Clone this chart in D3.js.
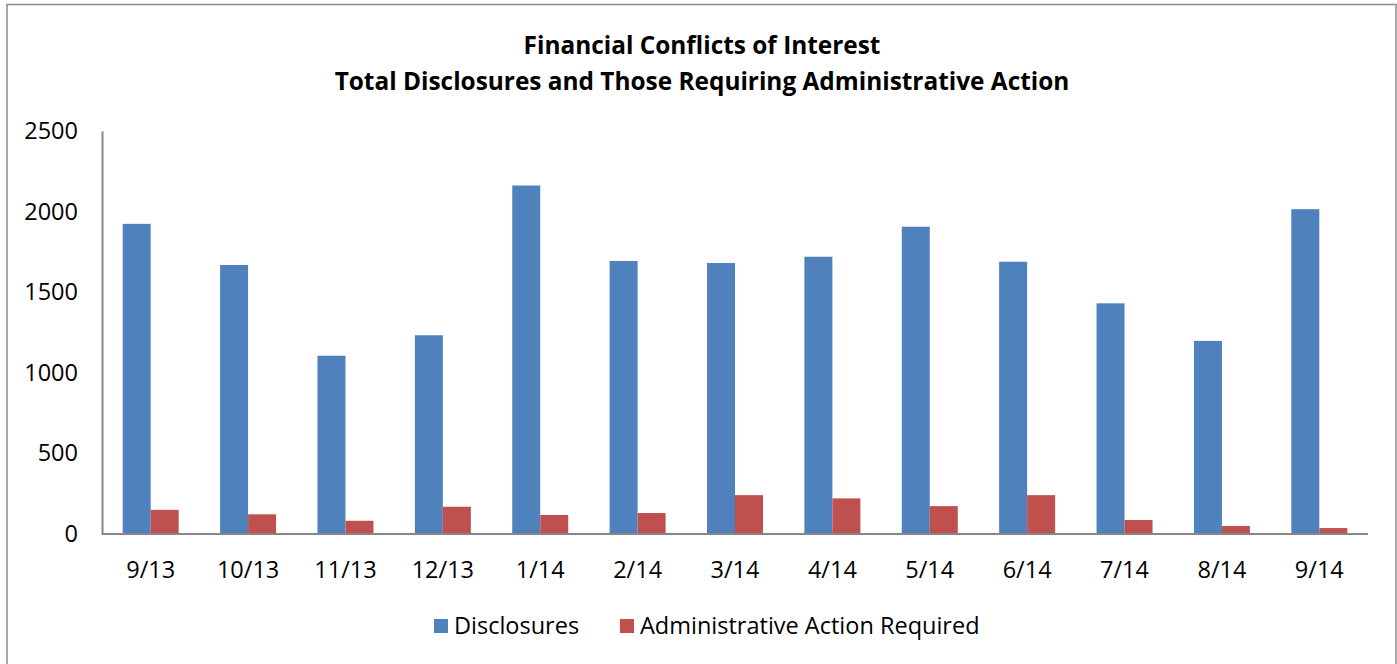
<!DOCTYPE html>
<html>
<head>
<meta charset="utf-8">
<script src="https://cdn.jsdelivr.net/npm/d3@7"></script>
<style>
  body { margin: 0; background: #fff; }
  svg { display: block; font-family: "Open Sans", "Liberation Sans", sans-serif; }
</style>
</head>
<body>
<script>
// data
var months = ["9/13", "10/13", "11/13", "12/13", "1/14", "2/14", "3/14", "4/14", "5/14", "6/14", "7/14", "8/14", "9/14"];
var disclosures = [1924, 1669, 1106, 1233, 2162, 1694, 1681, 1720, 1906, 1689, 1431, 1198, 2015];
var adminAction = [150, 122, 82, 169, 118, 130, 241, 221, 173, 241, 87, 50, 37];
var seriesNames = ["Disclosures", "Administrative Action Required"];
var seriesColors = ["#4f81bd", "#c0504d"];
var yTicks = [0, 500, 1000, 1500, 2000, 2500];

var W = 1397, H = 664;
var labelSize = 23.5;

var svg = d3.select("body").append("svg")
  .attr("width", W)
  .attr("height", H);

// outer frame
svg.append("rect")
  .attr("x", 7).attr("y", 4.5)
  .attr("width", 1389).attr("height", 670)
  .attr("fill", "#fff")
  .attr("stroke", "#8c8c8c")
  .attr("stroke-width", 1.5);

// title
var title = svg.append("text")
  .attr("text-anchor", "middle")
  .attr("font-weight", "bold")
  .attr("font-size", 24.4)
  .attr("fill", "#000");
title.append("tspan").attr("x", 702).attr("y", 54).text("Financial Conflicts of Interest");
title.append("tspan").attr("x", 702).attr("y", 90).text("Total Disclosures and Those Requiring Administrative Action");

var x = d3.scaleBand()
  .domain(months)
  .range([102, 1368])
  .paddingInner(0.425)
  .paddingOuter(0.2125);

var xs = d3.scaleBand()
  .domain([0, 1])
  .range([0, x.bandwidth()]);

var y = d3.scaleLinear()
  .domain([0, 2500])
  .range([534, 131]);

var rows = months.map(function (m, i) {
  return { month: m, vals: [disclosures[i], adminAction[i]] };
});

// bars
var groups = svg.selectAll("g.cat")
  .data(rows)
  .enter()
  .append("g")
  .attr("class", "cat")
  .attr("transform", function (d) { return "translate(" + x(d.month) + ",0)"; });

groups.selectAll("rect")
  .data(function (d) { return d.vals.map(function (v, k) { return { k: k, v: v }; }); })
  .enter()
  .append("rect")
  .attr("x", function (d) { return xs(d.k); })
  .attr("y", function (d) { return y(d.v); })
  .attr("width", xs.bandwidth())
  .attr("height", function (d) { return y(0) - y(d.v); })
  .attr("fill", function (d) { return seriesColors[d.k]; });

// y axis
var yAxis = svg.append("g")
  .attr("transform", "translate(102,0)")
  .call(d3.axisLeft(y).tickValues(yTicks).tickFormat(d3.format("d")).tickSize(0).tickPadding(24));
yAxis.select(".domain").attr("stroke", "#868686").attr("stroke-width", 2);
yAxis.selectAll("text")
  .attr("font-family", "'Open Sans', sans-serif")
  .attr("font-size", labelSize)
  .attr("fill", "#000");

// x axis
var xAxis = svg.append("g")
  .attr("transform", "translate(0,534)")
  .call(d3.axisBottom(x).tickSize(0).tickPadding(27).tickSizeOuter(0));
xAxis.select(".domain").attr("stroke", "#868686").attr("stroke-width", 2);
// axis band domain path is offset by padding; draw it to full range
xAxis.select(".domain").attr("d", "M102,0H1368");
xAxis.selectAll("text")
  .attr("font-family", "'Open Sans', sans-serif")
  .attr("font-size", labelSize)
  .attr("fill", "#000");

// legend
var legendX = [434, 620];
var legend = svg.selectAll("g.legend")
  .data(seriesNames)
  .enter()
  .append("g")
  .attr("class", "legend")
  .attr("transform", function (d, i) { return "translate(" + legendX[i] + ",619)"; });

legend.append("rect")
  .attr("width", 14).attr("height", 14)
  .attr("fill", function (d, i) { return seriesColors[i]; });

legend.append("text")
  .attr("x", 20)
  .attr("y", 7)
  .attr("dy", "0.35em")
  .attr("font-size", labelSize)
  .attr("fill", "#000")
  .text(function (d) { return d; });
</script>
</body>
</html>
